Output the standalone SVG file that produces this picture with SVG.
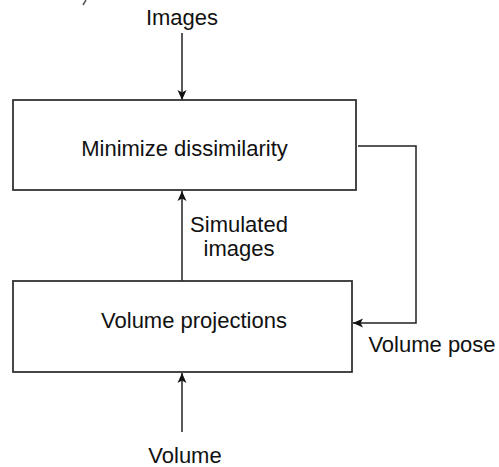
<svg xmlns="http://www.w3.org/2000/svg" width="499" height="467" viewBox="0 0 499 467">
<style>
.box{fill:#fff;stroke:#333;stroke-width:1.8}
.ln{fill:none;stroke:#222;stroke-width:1.5}
text{font-family:"Liberation Sans",Arial,sans-serif;font-size:22px;fill:#111}
</style>
<defs>
<marker id="ah" viewBox="0 0 10 10" refX="10" refY="5" markerWidth="10" markerHeight="10" markerUnits="userSpaceOnUse" orient="auto">
<path d="M0,0.5 L10,5 L0,9.5 L2.5,5 Z" fill="#111"/>
</marker>
</defs>
<rect width="499" height="467" fill="#fff"/>
<line x1="86" y1="0" x2="83" y2="5" stroke="#555" stroke-width="1.5"/>
<g id="connectors">
<line class="ln" x1="182" y1="33" x2="182" y2="100" marker-end="url(#ah)"/>
<line class="ln" x1="182" y1="281" x2="182" y2="191" marker-end="url(#ah)"/>
<line class="ln" x1="182" y1="432" x2="182" y2="373" marker-end="url(#ah)"/>
<polyline class="ln" points="358,146 416,146 416,323 353,323" marker-end="url(#ah)"/>
</g>
<g id="minimize">
<rect class="box" x="13" y="100" width="343" height="90"/>
<text x="184.5" y="156" text-anchor="middle">Minimize dissimilarity</text>
</g>
<g id="projections">
<rect class="box" x="13" y="281" width="339" height="91"/>
<text x="194" y="328" text-anchor="middle">Volume projections</text>
</g>
<g id="labels">
<text x="182" y="25" text-anchor="middle">Images</text>
<text x="239" y="232" text-anchor="middle">Simulated</text>
<text x="239" y="256" text-anchor="middle">images</text>
<text x="432" y="352" text-anchor="middle">Volume pose</text>
<text x="185" y="463" text-anchor="middle">Volume</text>
</g>
</svg>
